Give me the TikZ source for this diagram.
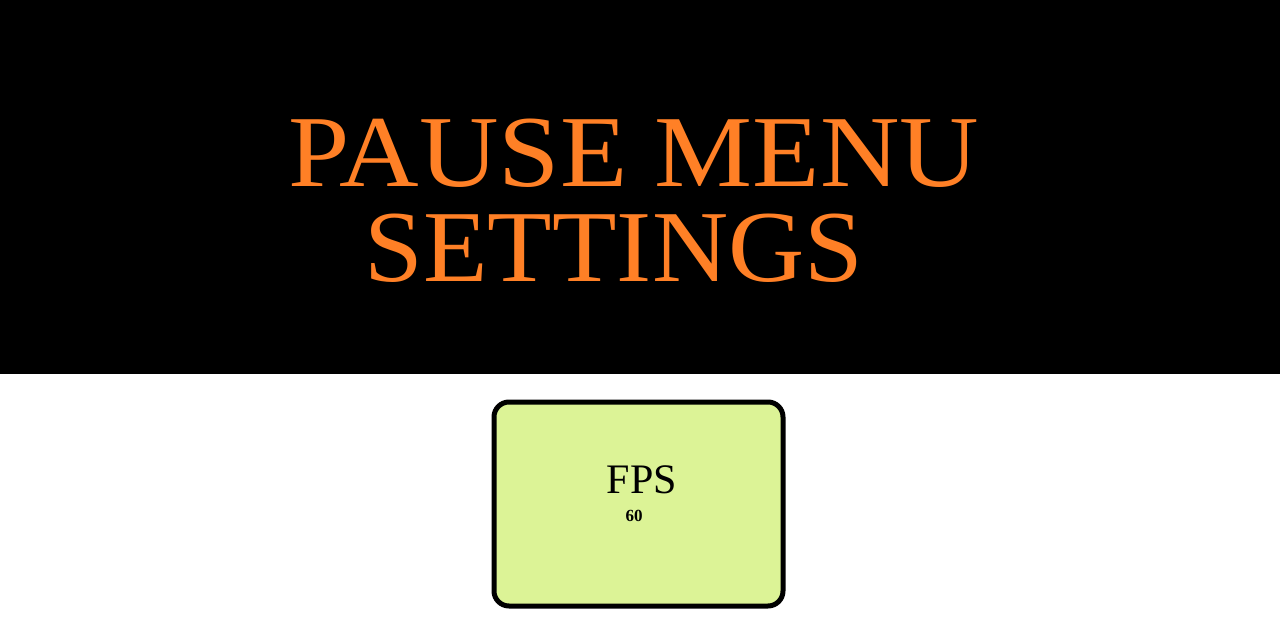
\documentclass[tikz,border=0pt]{standalone}
\usepackage{fontspec}
\setmainfont{Liberation Serif}
\definecolor{titleorange}{RGB}{255,128,38}
\definecolor{boxgreen}{RGB}{220,243,150}
\tikzset{
  titletext/.style={text=titleorange, font=\fontsize{102}{102}\selectfont, inner sep=0pt, anchor=base},
  card/.style={draw=black, line width=5pt, rounded corners=15pt, fill=boxgreen},
}
\begin{document}
\begin{tikzpicture}[x=1pt,y=-1pt]
\useasboundingbox (0,0) rectangle (1280,640);
\fill[black] (0,0) rectangle (1280,374);
\node[titletext, xscale=1.08] (t1) at (634,186) {PAUSE MENU};
\node[titletext, xscale=1.035] (t2) at (614,281) {SETTINGS};
\node[card, minimum width=289pt, minimum height=204pt] (box) at (638.5,504) {};
\node[font=\fontsize{42}{42}\selectfont, anchor=base, inner sep=0pt] (fps) at (642,493) {FPS};
\node[font=\fontsize{17}{17}\selectfont\bfseries, anchor=base, inner sep=0pt] (val) at (634,521) {60};
\end{tikzpicture}
\end{document}
